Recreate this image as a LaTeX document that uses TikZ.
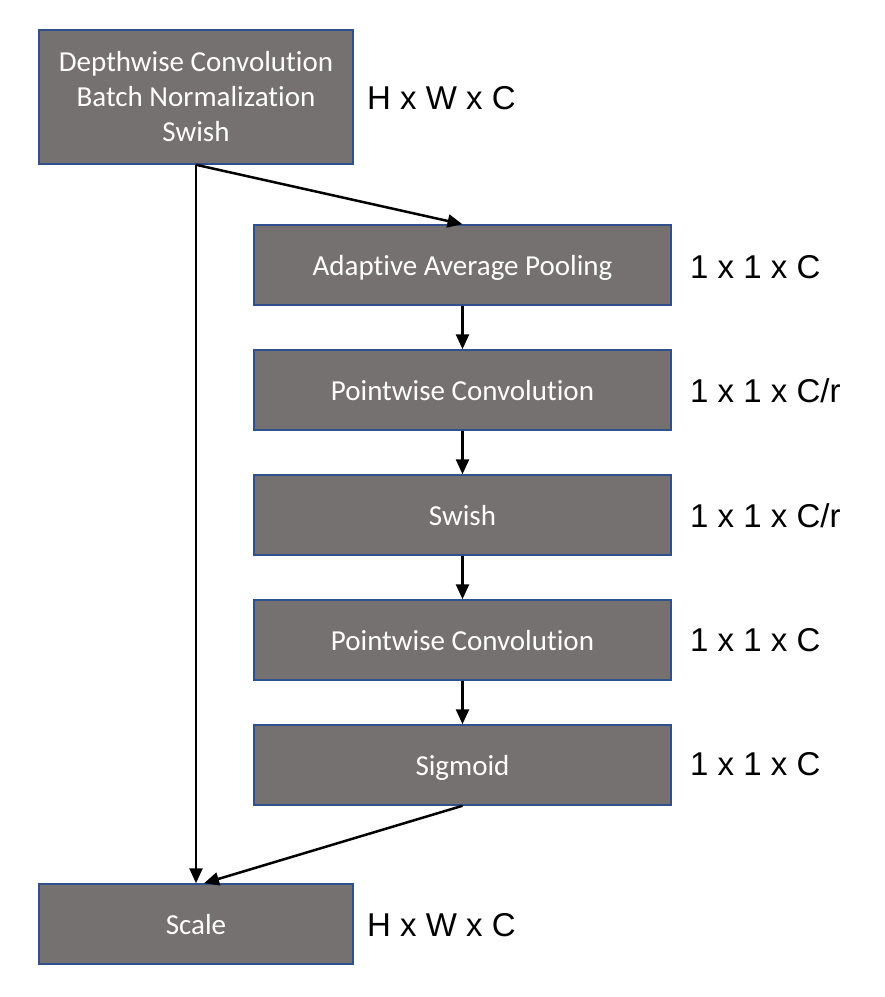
\documentclass[tikz,border=0pt]{standalone}
\usepackage{fontspec}
\setmainfont{Liberation Sans}
\newfontfamily\boxfont[Ligatures=NoCommon]{Carlito}
\usetikzlibrary{positioning,arrows.meta}
\definecolor{boxgray}{HTML}{767171}
\definecolor{boxline}{HTML}{2F528F}
\begin{document}
\begin{tikzpicture}[x=1pt,y=-1pt,
		layer/.style={rectangle,draw=boxline,line width=1.5pt,fill=boxgray,text=white,
			font=\boxfont\fontsize{29}{35}\selectfont,align=center,inner sep=0pt},
		wide/.style={layer,minimum width=417pt,minimum height=80pt,text depth=0pt},
		dims/.style={font=\fontsize{33}{38}\selectfont,anchor=west,inner sep=0pt},
		flow/.style={line width=2.5pt,-{Triangle[length=15pt,width=13pt]}}]
		
		\useasboundingbox (0,0) rectangle (885,997);
		
		\node[layer,minimum width=314pt,minimum height=134pt] (dw) at (196,97)
		{Depthwise Convolution\\Batch Normalization\\Swish};
		\node[wide] (pool) at (462.5,265) {Adaptive Average Pooling};
		\node[wide,below=43.5pt of pool] (pw1) {Pointwise Convolution};
		\node[wide,below=43.5pt of pw1] (swish) {Swish};
		\node[wide,below=43.5pt of swish] (pw2) {Pointwise Convolution};
		\node[wide,below=43.5pt of pw2] (sig) {Sigmoid};
		\node[wide,minimum width=314pt] (scale) at (196,924) {Scale};
		
		% output shapes
		\node[dims] (dwdim) at (367,98) {H x W x C};
		\node[dims] (pooldim) at (690,267) {1 x 1 x C};
		\node[dims] (pw1dim) at (690,391) {1 x 1 x C/r};
		\node[dims] (swishdim) at (690,516) {1 x 1 x C/r};
		\node[dims] (pw2dim) at (690,640) {1 x 1 x C};
		\node[dims] (sigdim) at (690,764) {1 x 1 x C};
		\node[dims] (scaledim) at (367,925) {H x W x C};
		
		\draw[flow] (dw.south) -- (scale.north);
		\draw[flow] (dw.south) -- (pool.north);
		\draw[flow] (pool) -- (pw1);
		\draw[flow] (pw1) -- (swish);
		\draw[flow] (swish) -- (pw2);
		\draw[flow] (pw2) -- (sig);
		\draw[flow] (sig.south) -- ([xshift=8pt]scale.north);
\end{tikzpicture}
\end{document}
